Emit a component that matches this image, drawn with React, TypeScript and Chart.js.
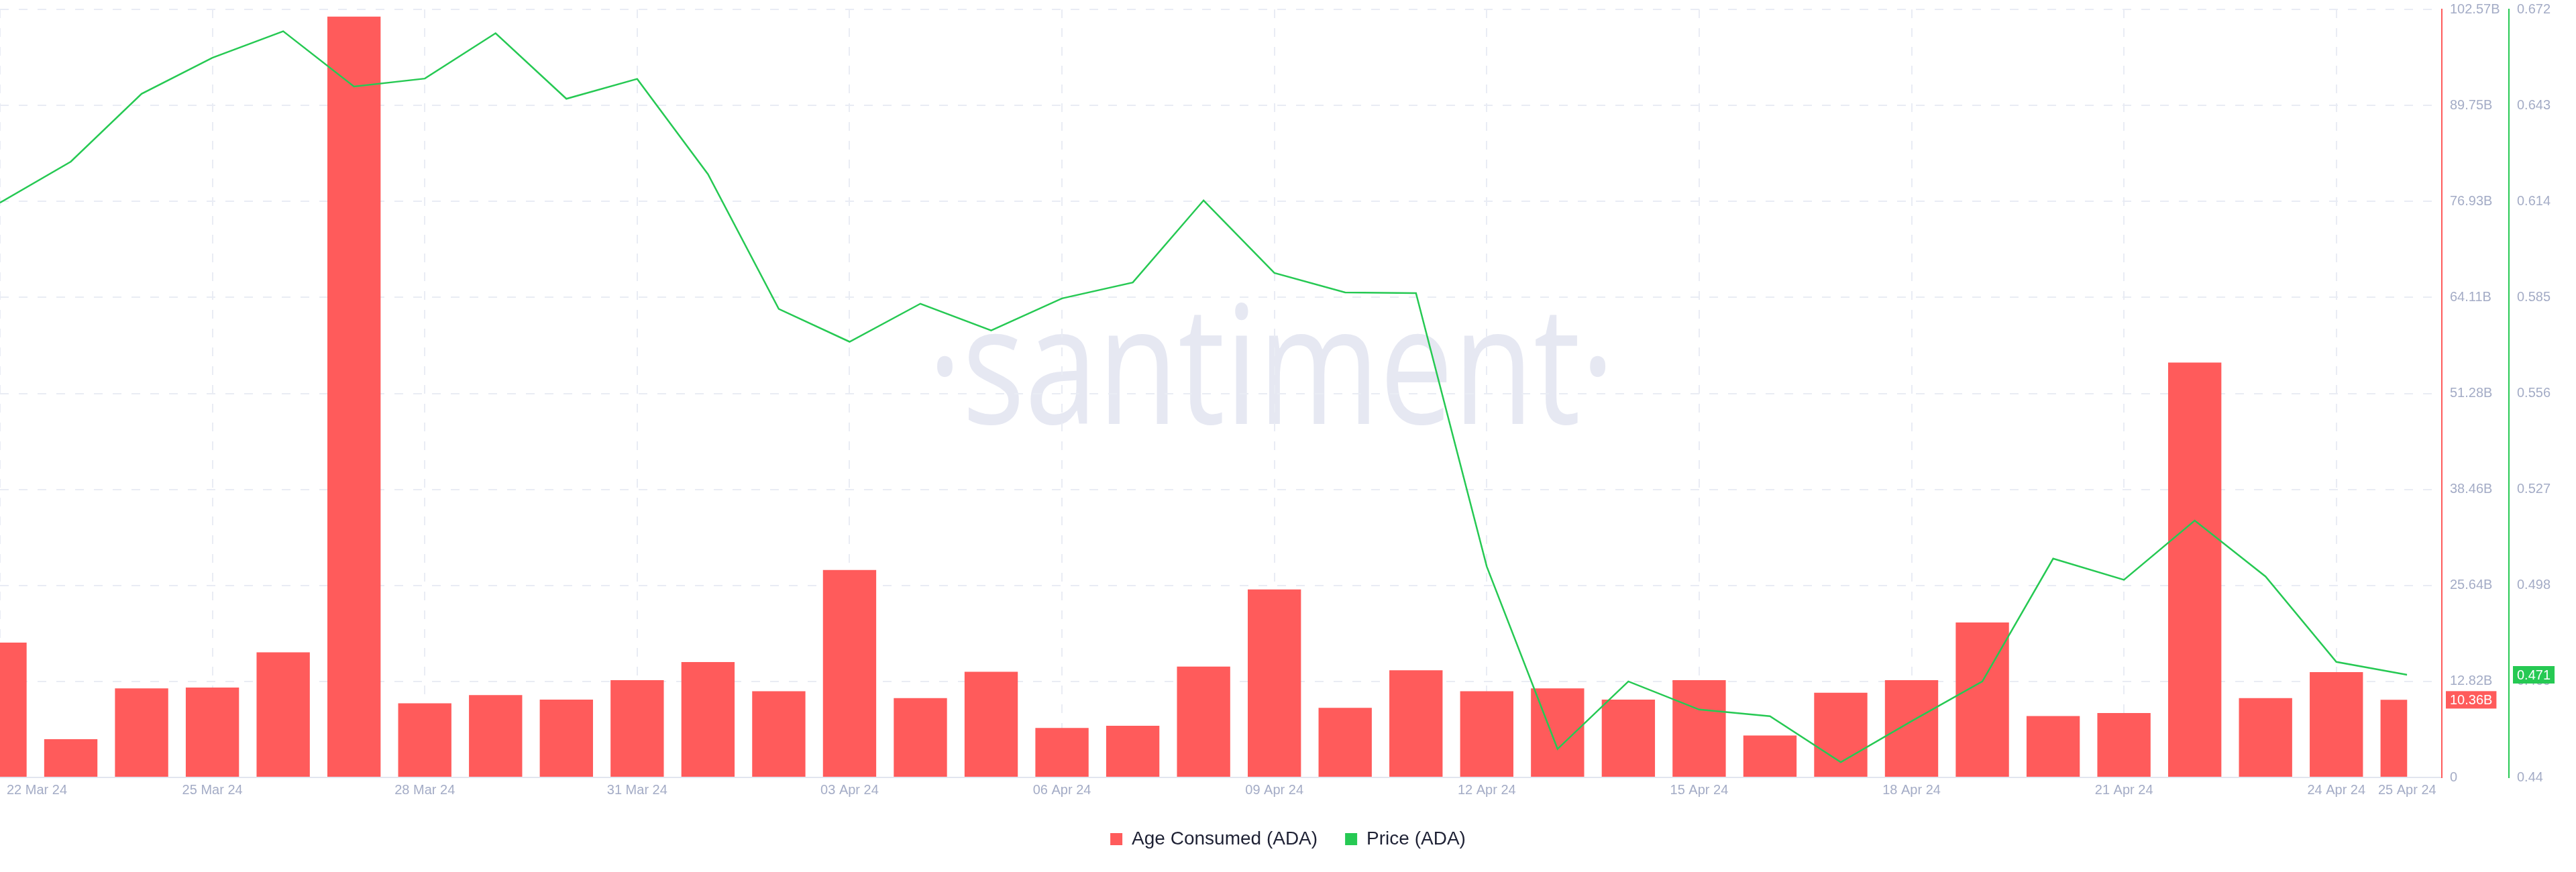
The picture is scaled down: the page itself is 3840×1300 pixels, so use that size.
import React, { useEffect, useRef } from 'react';
import { Chart, registerables } from 'chart.js';

Chart.register(...registerables);

// ---------- data ----------
const dates = [
  '22 Mar 24', '23 Mar 24', '24 Mar 24', '25 Mar 24', '26 Mar 24', '27 Mar 24', '28 Mar 24',
  '29 Mar 24', '30 Mar 24', '31 Mar 24', '01 Apr 24', '02 Apr 24', '03 Apr 24', '04 Apr 24',
  '05 Apr 24', '06 Apr 24', '07 Apr 24', '08 Apr 24', '09 Apr 24', '10 Apr 24', '11 Apr 24',
  '12 Apr 24', '13 Apr 24', '14 Apr 24', '15 Apr 24', '16 Apr 24', '17 Apr 24', '18 Apr 24',
  '19 Apr 24', '20 Apr 24', '21 Apr 24', '22 Apr 24', '23 Apr 24', '24 Apr 24', '25 Apr 24',
];

// Age Consumed (ADA), in billions
const ageConsumed = [
  18.0, 5.1, 11.9, 12.0, 16.7, 101.6, 9.9, 11.0, 10.4, 13.0, 15.4, 11.5, 27.7, 10.6,
  14.1, 6.6, 6.9, 14.8, 25.1, 9.3, 14.3, 11.5, 11.9, 10.4, 13.0, 5.6, 11.3, 13.0,
  20.7, 8.2, 8.6, 55.4, 10.6, 14.06, 10.36,
];

// Price (ADA), USD
const price = [
  0.6136, 0.626, 0.6465, 0.6574, 0.6654, 0.6487, 0.6511, 0.6648, 0.645, 0.651, 0.6222,
  0.5815, 0.5716, 0.5831, 0.575, 0.5847, 0.5895, 0.6143, 0.5924, 0.5865, 0.5863, 0.5037,
  0.4486, 0.469, 0.4605, 0.4585, 0.4446, 0.457, 0.469, 0.5061, 0.4997, 0.5176, 0.5007,
  0.4749, 0.471,
];

const ageTicks = [0, 12.82, 25.64, 38.46, 51.28, 64.11, 76.93, 89.75, 102.57];
const priceTicks = [0.44, 0.469, 0.498, 0.527, 0.556, 0.585, 0.614, 0.643, 0.672];
const xLabelIndices = [0, 3, 6, 9, 12, 15, 18, 21, 24, 27, 30, 33, 34];
const xGridIndices = [0, 3, 6, 9, 12, 15, 18, 21, 24, 27, 30, 33];

// ---------- styles ----------
const RED = '#FF5B5B';
const GREEN = '#26C953';
const TICK = '#A4ACC6';
const GRID = '#E9ECF4';
const FONT = '"Liberation Sans", Arial, sans-serif';
const X_EXTRA = 0.49; // axis extends a bit past the last data point

const fmtAge = (v: number) => (v === 0 ? '0' : v.toFixed(2) + 'B');
const fmtPrice = (v: number) => String(+v.toFixed(3));

const backgroundPlugin = {
  id: 'bgWatermark',
  beforeDraw(chart: any) {
    const { ctx, chartArea: a } = chart;
    ctx.save();
    ctx.fillStyle = '#ffffff';
    ctx.fillRect(0, 0, chart.width, chart.height);
    const text = '\u00B7santiment\u00B7';
    ctx.font = '400 245px "Open Sans"';
    const m = ctx.measureText(text);
    const ink = m.actualBoundingBoxLeft + m.actualBoundingBoxRight;
    const target = (a.right - a.left) * 0.274;
    const sx = target / ink;
    const cx = a.left + (a.right - a.left) * 0.5206;
    const by = a.top + (a.bottom - a.top) * 0.54;
    ctx.translate(cx, by);
    ctx.scale(sx, 1);
    ctx.textAlign = 'left';
    ctx.textBaseline = 'alphabetic';
    ctx.fillStyle = '#E6E8F2';
    ctx.fillText(text, -(m.actualBoundingBoxRight - m.actualBoundingBoxLeft) / 2, 0);
    ctx.restore();
  },
};

const clipPlugin = {
  id: 'dataClip',
  beforeDatasetsDraw(chart: any) {
    const { ctx, chartArea: a, scales } = chart;
    const l = scales.x.getPixelForValue(0);
    const r = scales.x.getPixelForValue(dates.length - 1);
    ctx.save();
    ctx.beginPath();
    ctx.rect(l, a.top - 10, r - l, a.bottom - a.top + 20);
    ctx.clip();
  },
  afterDatasetsDraw(chart: any) {
    chart.ctx.restore();
  },
};

const labelsPlugin = {
  id: 'xLabelsBadges',
  afterDraw(chart: any) {
    const { ctx, chartArea: a, scales } = chart;
    ctx.save();
    ctx.font = `20px ${FONT}`;
    ctx.textBaseline = 'middle';
    ctx.textAlign = 'left';
    ctx.fillStyle = TICK;
    xLabelIndices.forEach((i) => {
      const t = dates[i];
      const w = ctx.measureText(t).width;
      let left = scales.x.getPixelForValue(i) - w / 2;
      left = Math.max(left, a.left + 10);
      ctx.fillText(t, left, a.bottom + 19);
    });
    const badge = (scale: any, value: number, text: string, color: string) => {
      const y = scale.getPixelForValue(value);
      const w = ctx.measureText(text).width + 12;
      const h = 26;
      const x = scale.left + 6;
      ctx.fillStyle = color;
      ctx.fillRect(x, y - h / 2, w, h);
      ctx.fillStyle = '#ffffff';
      ctx.fillText(text, x + 6, y + 1);
    };
    const lastAge = ageConsumed[ageConsumed.length - 1];
    const lastPrice = price[price.length - 1];
    badge(scales.yAge, lastAge, fmtAge(lastAge), RED);
    badge(scales.yPrice, lastPrice, lastPrice.toFixed(3), GREEN);
    ctx.restore();
  },
};

const fitRightAxis = (s: any) => {
  s.width = 100;
  s.paddingTop = 0;
  s.paddingBottom = 0;
};

export default function App() {
  const ref = useRef<HTMLCanvasElement>(null);

  useEffect(() => {
    document.body.style.margin = '0';
    Chart.defaults.font.family = FONT;
    Chart.defaults.font.size = 20;
    Chart.defaults.color = TICK;

    const chart = new Chart(ref.current as HTMLCanvasElement, {
      type: 'bar',
      data: {
        datasets: [
          {
            type: 'bar',
            label: 'Age Consumed (ADA)',
            data: ageConsumed.map((v, i) => ({ x: i, y: v })),
            backgroundColor: RED,
            borderWidth: 0,
            yAxisID: 'yAge',
            categoryPercentage: 0.8,
            barPercentage: 0.94,
            order: 1,
          } as any,
          {
            type: 'line',
            label: 'Price (ADA)',
            data: price.map((v, i) => ({ x: i, y: v })),
            borderColor: GREEN,
            backgroundColor: GREEN,
            borderWidth: 2.5,
            pointRadius: 0,
            tension: 0,
            yAxisID: 'yPrice',
            order: 0,
          } as any,
        ],
      },
      options: {
        responsive: false,
        devicePixelRatio: 1,
        animation: false,
        events: [],
        layout: { padding: { top: 14, right: 0, bottom: 25, left: 0 } },
        plugins: {
          tooltip: { enabled: false },
          legend: {
            position: 'bottom',
            labels: {
              boxWidth: 18,
              boxHeight: 18,
              padding: 41,
              color: '#1E2134',
              font: { size: 28, family: FONT },
              sort: (a: any, b: any) => a.datasetIndex - b.datasetIndex,
              generateLabels: (c: any) =>
                (Chart.defaults.plugins.legend.labels as any)
                  .generateLabels(c)
                  .map((it: any) => ({ ...it, lineWidth: 0 })),
            },
          },
        },
        scales: {
          x: {
            type: 'linear',
            min: 0,
            max: dates.length - 1 + X_EXTRA,
            offset: false,
            grid: { offset: false, color: GRID, lineWidth: 2, drawTicks: false },
            border: { display: true, color: '#E1E5EF', width: 2, dash: [13, 15] },
            ticks: { display: false },
            afterBuildTicks: (s: any) => {
              s.ticks = xGridIndices.map((v) => ({ value: v }));
            },
            afterFit: (s: any) => {
              s.height = 37;
            },
          },
          yAge: {
            type: 'linear',
            position: 'right',
            weight: 0,
            min: ageTicks[0],
            max: ageTicks[ageTicks.length - 1],
            grid: { color: GRID, lineWidth: 2, drawTicks: false },
            border: { display: true, color: RED, width: 2, dash: [13, 15] },
            ticks: {
              padding: 12,
              color: TICK,
              font: { size: 20, family: FONT },
              autoSkip: false,
              callback: (v: any) => fmtAge(Number(v)),
            },
            afterBuildTicks: (s: any) => {
              s.ticks = ageTicks.map((v) => ({ value: v }));
            },
            afterFit: fitRightAxis,
          },
          yPrice: {
            type: 'linear',
            position: 'right',
            weight: 1,
            min: priceTicks[0],
            max: priceTicks[priceTicks.length - 1],
            grid: { display: false, drawTicks: false },
            border: { display: true, color: GREEN, width: 2 },
            ticks: {
              padding: 12,
              color: TICK,
              font: { size: 20, family: FONT },
              autoSkip: false,
              callback: (v: any) => fmtPrice(Number(v)),
            },
            afterBuildTicks: (s: any) => {
              s.ticks = priceTicks.map((v) => ({ value: v }));
            },
            afterFit: fitRightAxis,
          },
        },
      } as any,
      plugins: [backgroundPlugin, clipPlugin, labelsPlugin],
    });
    return () => chart.destroy();
  }, []);

  return (
    <div style={{ width: 3840, height: 1300, background: '#ffffff' }}>
      <canvas ref={ref} width={3840} height={1300} style={{ display: 'block', width: 3840, height: 1300 }} />
    </div>
  );
}
